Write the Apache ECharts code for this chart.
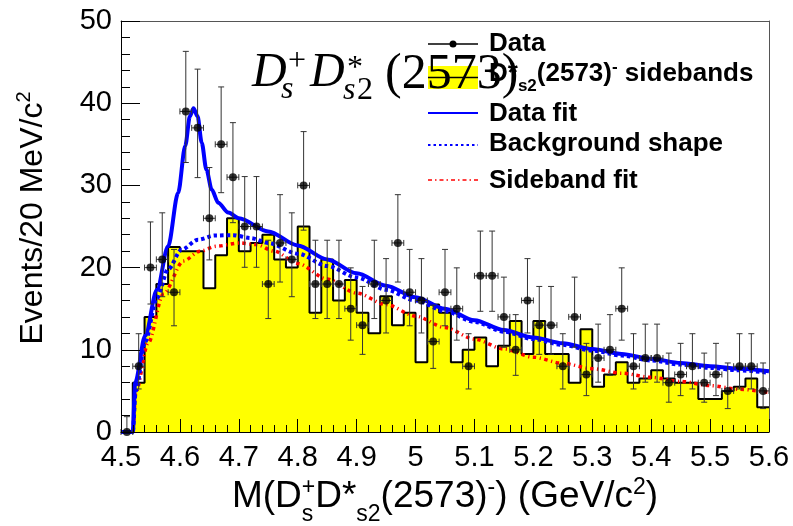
<!DOCTYPE html>
<html>
<head>
<meta charset="utf-8">
<script src="https://cdn.jsdelivr.net/npm/echarts@6.0.0/dist/echarts.min.js"></script>
<style>
  html, body { margin: 0; padding: 0; background: #ffffff; }
  #chart { width: 793px; height: 526px; }
</style>
</head>
<body>
<div id="chart"></div>
<script>
// Axis tick labels
const xTickLabels = ['4.5', '4.6', '4.7', '4.8', '4.9', '5', '5.1', '5.2', '5.3', '5.4', '5.5', '5.6'];
const yTickLabels = ['0', '10', '20', '30', '40', '50'];

// 20 MeV/c^2 bins: centres (GeV/c^2)
const binCenters = [
  4.51, 4.53, 4.55, 4.57, 4.59, 4.61, 4.63, 4.65, 4.67, 4.69,
  4.71, 4.73, 4.75, 4.77, 4.79, 4.81, 4.83, 4.85, 4.87, 4.89,
  4.91, 4.93, 4.95, 4.97, 4.99, 5.01, 5.03, 5.05, 5.07, 5.09,
  5.11, 5.13, 5.15, 5.17, 5.19, 5.21, 5.23, 5.25, 5.27, 5.29,
  5.31, 5.33, 5.35, 5.37, 5.39, 5.41, 5.43, 5.45, 5.47, 5.49,
  5.51, 5.53, 5.55, 5.57, 5.59
];
const binHalfWidth = 0.01;

// Events per bin in data
const dataCounts = [
  0, 8, 20, 21, 17, 39, 37, 26, 35, 31,
  25, 25, 18, 23, 21, 30, 18, 18, 18, 15,
  13, 18, 16, 23, 17, 16, 11, 17, 15, 8,
  19, 19, 14, 10, 16, 13, 13, 8, 14, 7,
  9, 10, 15, 8, 9, 9, 6, 7, 8, 6,
  7, 5, 8, 8, 5
];

// Normalised D*s2(2573) sideband histogram
const sidebandCounts = [
  0, 6, 14, 18, 22.5, 22, 22, 17.5, 21.5, 26,
  22, 23, 24, 21, 20, 25, 14.5, 21, 16, 18.5,
  14.5, 12, 16.5, 13, 14.5, 8.5, 15.5, 14.5, 8.5, 10,
  11.5, 8, 10.5, 13.5, 9.5, 13.5, 9.5, 9.5, 6, 12.5,
  5.5, 7, 8.5, 6, 6.5, 7.5, 6.5, 6, 6, 4,
  4, 5, 5.5, 6.5, 3
];

// Fit to data (signal + background)
const dataFitX = [4.500, 4.520, 4.524, 4.541, 4.561, 4.580, 4.597, 4.609, 4.617, 4.623, 4.630, 4.637, 4.645, 4.654, 4.665, 4.682, 4.700, 4.750, 4.800, 4.850, 4.900, 4.950, 5.000, 5.050, 5.100, 5.150, 5.200, 5.250, 5.300, 5.350, 5.400, 5.450, 5.500, 5.550, 5.600];
const dataFitY = [0, 0, 6.0, 11.7, 17.3, 22.6, 29.1, 34.8, 38.4, 39.4, 38.4, 35.2, 31.9, 29.5, 27.9, 26.7, 26.0, 24.4, 22.7, 21.0, 19.3, 17.8, 16.4, 15.0, 13.6, 12.4, 11.5, 10.8, 10.1, 9.5, 8.9, 8.4, 8.0, 7.7, 7.4];

// Background component of the data fit
const bkgShapeX = [4.500, 4.520, 4.525, 4.541, 4.561, 4.580, 4.603, 4.631, 4.659, 4.690, 4.720, 4.750, 4.800, 4.850, 4.900, 4.950, 5.000, 5.050, 5.100, 5.150, 5.200, 5.250, 5.300, 5.350, 5.400, 5.450, 5.500, 5.550, 5.600];
const bkgShapeY = [0, 0, 5.0, 11.0, 16.3, 19.8, 22.2, 23.4, 23.9, 23.95, 23.6, 23.0, 21.7, 20.2, 18.8, 17.3, 16.0, 14.7, 13.4, 12.2, 11.3, 10.6, 9.9, 9.3, 8.7, 8.2, 7.8, 7.5, 7.2];

// Fit to the sideband histogram
const sbFitX = [4.500, 4.520, 4.525, 4.546, 4.572, 4.606, 4.634, 4.662, 4.702, 4.730, 4.760, 4.800, 4.850, 4.900, 4.950, 5.000, 5.050, 5.100, 5.150, 5.200, 5.250, 5.300, 5.350, 5.400, 5.450, 5.500, 5.550, 5.600];
const sbFitY = [0, 0, 4.8, 10.8, 16.8, 20.8, 22.0, 22.6, 23.0, 22.8, 22.0, 20.5, 18.6, 16.9, 15.5, 14.1, 12.7, 11.3, 10.1, 9.1, 8.35, 7.7, 7.15, 6.65, 6.15, 5.65, 5.2, 4.8];

// ---------------------------------------------------------------
const SANS = 'Liberation Sans';
const SERIF = 'Liberation Serif';

// Poisson 68% intervals (Gehrels approximation) for the data error bars
function poissonLow(n) {
  if (n <= 0) return 0;
  const f = 1 - 1 / (9 * n) - 1 / (3 * Math.sqrt(n));
  return n * f * f * f;
}
function poissonHigh(n) {
  return n + 1 + Math.sqrt(n + 0.75);
}

const pairs = (xs, ys) => xs.map((x, i) => [x, ys[i]]);

// step outline: one point at each lower bin edge plus the closing edge
const histPoints = binCenters.map((c, i) => [c - binHalfWidth, sidebandCounts[i]]);
histPoints.push([binCenters[binCenters.length - 1] + binHalfWidth, sidebandCounts[sidebandCounts.length - 1]]);

const dataPoints = binCenters.map((c, i) => [c, dataCounts[i]]);
const errorRows = binCenters.map((c, i) => [
  c, dataCounts[i], poissonLow(dataCounts[i]), poissonHigh(dataCounts[i]), c - binHalfWidth, c + binHalfWidth
]);

// --- text helpers (sub/superscripts laid out run by run) ---
const measureCtx = document.createElement('canvas').getContext('2d');
function fontString(r) {
  return (r.italic ? 'italic ' : '') + (r.bold ? 'bold ' : '') + r.size + 'px "' + r.family + '"';
}
function textElement(r, x, baseY) {
  const k = r.family === SERIF ? 0.3375 : 0.3465;
  return {
    type: 'text', x: x, y: baseY - k * r.size, z: 100,
    style: {
      text: r.t, fontSize: r.size, fontFamily: r.family,
      fontWeight: r.bold ? 'bold' : 'normal', fontStyle: r.italic ? 'italic' : 'normal',
      fill: '#000', align: 'left', verticalAlign: 'middle'
    }
  };
}
function flowRuns(runs, defaults) {
  let x = 0, pending = 0;
  const items = [];
  runs.forEach(function (r0) {
    const r = Object.assign({ dy: 0 }, defaults, r0);
    measureCtx.font = fontString(r);
    const w = measureCtx.measureText(r.t).width;
    items.push({ r: r, x: x });
    if (r.stack) { pending = Math.max(pending, w); }
    else { x += Math.max(pending, w); pending = 0; }
  });
  return {
    width: x,
    children: function (offsetX) {
      return items.map(function (it) { return textElement(it.r, it.x + offsetX, it.r.dy); });
    }
  };
}

// x-axis title: M(D_s^+ D*_s2(2573)^-) (GeV/c^2)
const xTitle = flowRuns([
  { t: 'M(D' },
  { t: 's', size: 23, dy: 13, stack: true },
  { t: '+', size: 23, dy: -14 },
  { t: 'D*' },
  { t: 's2', size: 23, dy: 13 },
  { t: '(2573)' },
  { t: '-', size: 23, dy: -14 },
  { t: ') (GeV/c' },
  { t: '2', size: 23, dy: -14 },
  { t: ')' }
], { family: SANS, size: 37 });

// y-axis title: Events/20 MeV/c^2
const yTitle = flowRuns([
  { t: 'Events/20 MeV/c' },
  { t: '2', size: 20, dy: -13 }
], { family: SANS, size: 32 });

// legend entry for the sideband histogram
const sbLegendText = flowRuns([
  { t: 'D*' },
  { t: 's2', size: 17, dy: 9 },
  { t: '(2573)' },
  { t: '-', size: 17, dy: -10 },
  { t: ' sidebands' }
], { family: SANS, size: 26, bold: true });

function legendLabel(text, baseY) {
  return textElement({ t: text, size: 26, family: SANS, bold: true }, 489, baseY);
}

// formula annotation D_s^+ D_s2^*(2573)
const mathPieces = [
  { t: 'D', x: 252, base: 90, size: 48, italic: true },
  { t: 's', x: 281, base: 100, size: 32, italic: true },
  { t: '+', x: 288, base: 72, size: 32 },
  { t: 'D', x: 310, base: 90, size: 48, italic: true },
  { t: '*', x: 347, base: 79, size: 32 },
  { t: 's', x: 343, base: 101, size: 32, italic: true },
  { t: '2', x: 357, base: 101, size: 32 },
  { t: '(2573)', x: 385, base: 92, size: 50 }
];

const graphics = [];
graphics.push({ type: 'group', x: 445 - xTitle.width / 2, y: 510, children: xTitle.children(0) });
graphics.push({ type: 'group', x: 44, y: 218, rotation: Math.PI / 2, children: yTitle.children(-yTitle.width / 2) });

// legend
graphics.push({ type: 'line', z: 100, shape: { x1: 428, y1: 44, x2: 478, y2: 44 }, style: { stroke: '#000', lineWidth: 1.5 } });
graphics.push({ type: 'circle', z: 101, shape: { cx: 453, cy: 44, r: 3.5 }, style: { fill: '#000' } });
graphics.push(legendLabel('Data', 53));
graphics.push({ type: 'rect', z: 100, shape: { x: 428, y: 66, width: 50, height: 23 }, style: { fill: '#ffff00' } });
graphics.push({ type: 'line', z: 100, shape: { x1: 428, y1: 77.5, x2: 478, y2: 77.5 }, style: { stroke: '#000', lineWidth: 1.5 } });
graphics.push({ type: 'group', x: 489, y: 83, children: sbLegendText.children(0) });
graphics.push({ type: 'line', z: 100, shape: { x1: 428, y1: 113, x2: 478, y2: 113 }, style: { stroke: '#0000ff', lineWidth: 2.2 } });
graphics.push(legendLabel('Data fit', 123));
graphics.push({ type: 'line', z: 100, shape: { x1: 428, y1: 145, x2: 478, y2: 145 }, style: { stroke: '#0000ff', lineWidth: 2, lineDash: [2.5, 3] } });
graphics.push(legendLabel('Background shape', 153));
graphics.push({ type: 'line', z: 100, shape: { x1: 428, y1: 180, x2: 478, y2: 180 }, style: { stroke: '#ff0000', lineWidth: 1.5, lineDash: [4, 3, 1.5, 3] } });
graphics.push(legendLabel('Sideband fit', 190));

mathPieces.forEach(function (p) {
  const el = textElement({ t: p.t, size: p.size, family: SERIF, italic: !!p.italic }, p.x, p.base);
  el.z = 110;
  graphics.push(el);
});

function lookupLabel(labels, v) {
  const s = labels.find(function (l) { return Math.abs(parseFloat(l) - v) < 1e-6; });
  return s === undefined ? '' : s;
}

const axisFont = { fontFamily: SANS, fontSize: 29, color: '#000' };

const chart = echarts.init(document.getElementById('chart'), null, { renderer: 'canvas' });
chart.setOption({
  animation: false,
  backgroundColor: '#ffffff',
  grid: { left: 121, right: 24, top: 21, bottom: 94, containLabel: false, outerBoundsMode: 'none', show: false },
  xAxis: [{
    type: 'value', min: 4.5, max: 5.6, interval: 0.1, z: 10,
    axisLine: { show: true, onZero: false, lineStyle: { color: '#000', width: 1 } },
    axisTick: { show: true, inside: true, length: 13, lineStyle: { color: '#000', width: 1 } },
    minorTick: { show: true, splitNumber: 5, length: 7, lineStyle: { color: '#000', width: 1 } },
    splitLine: { show: false },
    axisLabel: Object.assign({ margin: 11, showMinLabel: true, showMaxLabel: true,
      formatter: function (v) { return lookupLabel(xTickLabels, v); } }, axisFont)
  }, {
    type: 'value', position: 'top', min: 4.5, max: 5.6, z: 10,
    axisLine: { show: true, onZero: false, lineStyle: { color: '#555', width: 1 } },
    axisTick: { show: false }, axisLabel: { show: false }, splitLine: { show: false }
  }],
  yAxis: [{
    type: 'value', min: 0, max: 50, interval: 10, z: 10,
    axisLine: { show: true, onZero: false, lineStyle: { color: '#000', width: 1 } },
    axisTick: { show: true, inside: true, length: 19, lineStyle: { color: '#000', width: 1 } },
    minorTick: { show: true, splitNumber: 5, length: 9, lineStyle: { color: '#000', width: 1 } },
    splitLine: { show: false },
    axisLabel: Object.assign({ margin: 9, showMinLabel: true, showMaxLabel: true,
      formatter: function (v) { return lookupLabel(yTickLabels, v); } }, axisFont)
  }, {
    type: 'value', position: 'right', min: 0, max: 50, z: 10,
    axisLine: { show: true, onZero: false, lineStyle: { color: '#555', width: 1 } },
    axisTick: { show: false }, axisLabel: { show: false }, splitLine: { show: false }
  }],
  series: [
    {
      name: 'sidebands', type: 'line', step: 'end', data: histPoints,
      symbol: 'none', z: 2,
      lineStyle: { color: '#000', width: 2 },
      areaStyle: { color: '#ffff00', opacity: 1 }
    },
    {
      name: 'Sideband fit', type: 'line', data: pairs(sbFitX, sbFitY), symbol: 'none',
      smooth: 0.3, smoothMonotone: 'x', z: 3,
      lineStyle: { color: '#ff0000', width: 3.5, type: [3.5, 3.5, 1.2, 3.5] }
    },
    {
      name: 'Background shape', type: 'line', data: pairs(bkgShapeX, bkgShapeY), symbol: 'none',
      smooth: 0.3, smoothMonotone: 'x', z: 3,
      lineStyle: { color: '#0000ff', width: 4, type: [3.5, 3] }
    },
    {
      name: 'Data fit', type: 'line', data: pairs(dataFitX, dataFitY), symbol: 'none',
      smooth: 0.3, smoothMonotone: 'x', z: 4,
      lineStyle: { color: '#0000ff', width: 4 }
    },
    {
      name: 'Data errors', type: 'custom', data: errorRows, clip: false, z: 5,
      renderItem: function (params, api) {
        const xc = api.value(0), n = api.value(1), lo = api.value(2), hi = api.value(3);
        const top = api.coord([xc, hi]), bot = api.coord([xc, lo]);
        const left = api.coord([api.value(4), n]), right = api.coord([api.value(5), n]);
        const cap = 3;
        const st = { stroke: '#333', lineWidth: 1 };
        return {
          type: 'group',
          children: [
            { type: 'line', shape: { x1: top[0], y1: top[1], x2: bot[0], y2: bot[1] }, style: st },
            { type: 'line', shape: { x1: top[0] - cap, y1: top[1], x2: top[0] + cap, y2: top[1] }, style: st },
            { type: 'line', shape: { x1: bot[0] - cap, y1: bot[1], x2: bot[0] + cap, y2: bot[1] }, style: st },
            { type: 'line', shape: { x1: left[0], y1: left[1], x2: right[0], y2: right[1] }, style: st },
            { type: 'line', shape: { x1: left[0], y1: left[1] - cap, x2: left[0], y2: left[1] + cap }, style: st },
            { type: 'line', shape: { x1: right[0], y1: right[1] - cap, x2: right[0], y2: right[1] + cap }, style: st }
          ]
        };
      }
    },
    {
      name: 'Data', type: 'scatter', data: dataPoints, clip: false, z: 6,
      symbol: 'circle', symbolSize: 8,
      itemStyle: { color: '#000' }
    }
  ],
  graphic: graphics
});
</script>
</body>
</html>
